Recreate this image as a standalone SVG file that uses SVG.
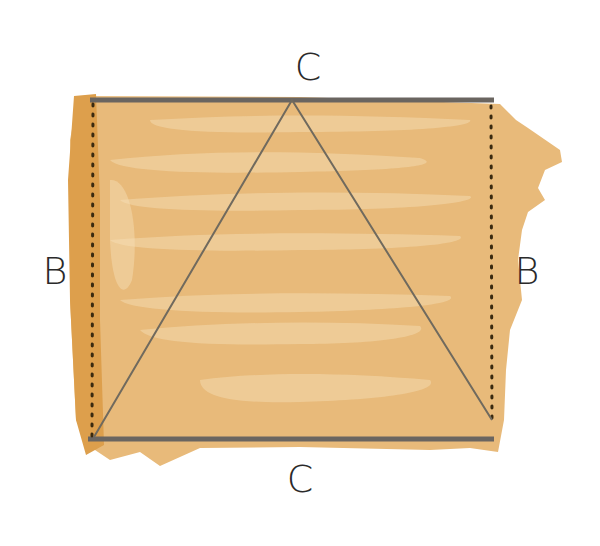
<svg xmlns="http://www.w3.org/2000/svg" width="600" height="546" viewBox="0 0 600 546">
<defs>
<style>
.lbl{font-family:"DejaVu Sans","Liberation Sans",sans-serif;font-size:38px;fill:#2a2a2a;font-weight:200}
.edge{stroke:#6a6560;stroke-width:5;fill:none;stroke-linecap:butt}
.tri{stroke:#706a5e;stroke-width:2;fill:none;stroke-linejoin:round}
.dots{stroke:#3a2a10;stroke-width:3;fill:none;stroke-dasharray:2 8;stroke-linecap:round}
.streak{fill:#f6e0b8;opacity:0.45}
</style>
</defs>
<rect width="600" height="546" fill="#ffffff"/>
<g id="fill">
<path d="M78,96 L300,97 L500,104 L516,120 L528,128 L560,150 L562,162 L545,170 L538,188 L545,200 L528,212 L522,230 L518,260 L522,300 L510,330 L506,370 L504,420 L498,452 L470,448 L430,450 L300,447 L200,448 L160,466 L140,452 L110,460 L92,448 L76,420 L70,300 L72,200 L70,140 Z" fill="#e8ba7a"/>
<path d="M74,96 L96,94 L100,200 L100,320 L104,445 L86,455 L76,420 L70,300 L68,180 Z" fill="#dd9f4c"/>
<path class="streak" d="M110,160 C200,150 300,150 420,158 C440,164 420,170 300,172 C200,174 120,172 110,160 Z"/>
<path class="streak" d="M120,200 C220,192 340,190 470,196 C480,202 420,210 300,210 C200,212 130,210 120,200 Z"/>
<path class="streak" d="M110,240 C210,232 330,232 460,236 C470,244 400,250 300,250 C200,252 120,250 110,240 Z"/>
<path class="streak" d="M120,300 C220,292 330,292 450,296 C460,304 400,310 300,312 C200,314 130,310 120,300 Z"/>
<path class="streak" d="M140,330 C220,322 320,320 420,326 C430,336 380,344 300,344 C200,346 150,342 140,330 Z"/>
<path class="streak" d="M110,180 C130,178 140,230 132,280 C124,300 112,290 110,240 Z"/>
<path class="streak" d="M200,380 C260,372 340,372 430,380 C440,392 380,400 300,402 C230,404 200,396 200,380 Z"/>
<path class="streak" d="M150,120 C250,114 350,114 470,120 C475,126 420,132 300,132 C200,134 150,130 150,120 Z"/>
</g>
<g id="connectors">
<line class="edge" x1="90" y1="100" x2="494" y2="100"/>
<line class="edge" x1="88" y1="439" x2="494" y2="439"/>
<line class="dots" x1="93" y1="104" x2="92" y2="436"/>
<line class="dots" x1="491" y1="106" x2="492" y2="424"/>
<path class="tri" d="M94,437 L292,100 L492,420"/>
</g>
<g id="label-top"><text class="lbl" x="308" y="80" text-anchor="middle">C</text></g>
<g id="label-bottom"><text class="lbl" x="300" y="492" text-anchor="middle">C</text></g>
<g id="label-left"><text class="lbl" x="55" y="284" text-anchor="middle">B</text></g>
<g id="label-right"><text class="lbl" x="527" y="284" text-anchor="middle">B</text></g>
</svg>
